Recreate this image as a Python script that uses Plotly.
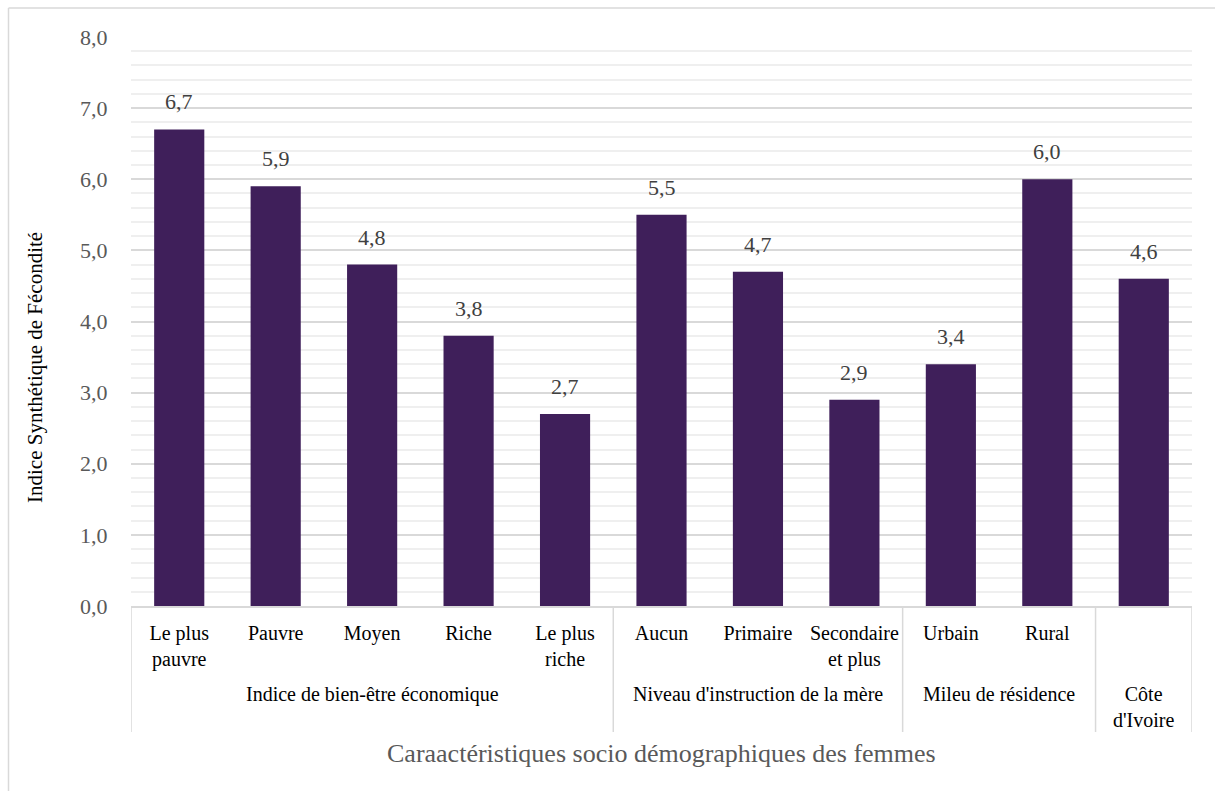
import plotly.graph_objects as go

# Total fertility rate by women's socio-demographic characteristics
categories = ["Le plus pauvre", "Pauvre", "Moyen", "Riche", "Le plus riche",
              "Aucun", "Primaire", "Secondaire et plus",
              "Urbain", "Rural",
              "Côte d'Ivoire"]
tick_labels = ["Le plus<br>pauvre", "Pauvre", "Moyen", "Riche", "Le plus<br>riche",
               "Aucun", "Primaire", "Secondaire<br>et plus",
               "Urbain", "Rural",
               ""]
values = [6.7, 5.9, 4.8, 3.8, 2.7, 5.5, 4.7, 2.9, 3.4, 6.0, 4.6]
value_labels = ["6,7", "5,9", "4,8", "3,8", "2,7", "5,5", "4,7", "2,9", "3,4", "6,0", "4,6"]
groups = ["Indice de bien-être économique", "Niveau d'instruction de la mère",
          "Mileu de résidence", "Côte<br>d'Ivoire"]
group_sizes = [5, 3, 2, 1]

FONT = "Liberation Serif"
BAR = "#3F1F5A"
GRID = "#D9D9D9"
MINOR = "#EFEFEF"

W, H = 1215, 791
L, R, T, B = 131, 23, 37, 185
pw, ph = W - L - R, H - T - B

fig = go.Figure(go.Bar(
    x=categories, y=values, marker=dict(color=BAR, line=dict(width=0)),
    width=0.52, hoverinfo="x+y",
))

# value labels above bars
for c, v, t in zip(categories, values, value_labels):
    fig.add_annotation(x=c, y=v, xref="x", yref="y", text=t, showarrow=False,
                       yanchor="bottom", yshift=13,
                       font=dict(family=FONT, size=22, color="#404040"))

# group labels and dividers under the category axis
shapes = []
start = 0
bounds = [-0.5]
for g, n in zip(groups, group_sizes):
    center = start + (n - 1) / 2
    fig.add_annotation(x=center, y=0, xref="x", yref="paper", text=g,
                       showarrow=False, yanchor="top", yshift=-75,
                       font=dict(family=FONT, size=20, color="#000000"))
    start += n
    bounds.append(start - 0.5)

y_bottom = -(732 - (T + ph)) / ph
for b in bounds:
    shapes.append(dict(type="line", xref="x", yref="paper", x0=b, x1=b,
                       y0=0, y1=y_bottom, line=dict(color=GRID, width=1.5)))

# chart-area frame (top and left edges)
fx = (8.5 - L) / pw
fy = (T + ph - 8) / ph
shapes.append(dict(type="line", xref="paper", yref="paper", x0=fx, x1=(W - L) / pw,
                   y0=fy, y1=fy, line=dict(color=GRID, width=1.5)))
shapes.append(dict(type="line", xref="paper", yref="paper", x0=fx, x1=fx,
                   y0=fy, y1=-(B) / ph, line=dict(color=GRID, width=1.5)))

# axis titles
fig.add_annotation(xref="paper", yref="paper", x=(35 - L) / pw, y=(T + ph - 368) / ph,
                   text="Indice Synthétique de Fécondité", textangle=-90,
                   showarrow=False, xanchor="center", yanchor="middle",
                   font=dict(family=FONT, size=21, color="#000000"))
fig.add_annotation(xref="paper", yref="paper", x=0.5, y=-(753 - (T + ph)) / ph,
                   text="Caraactéristiques socio démographiques des femmes",
                   showarrow=False, xanchor="center", yanchor="middle",
                   font=dict(family=FONT, size=26, color="#595959"))

fig.update_layout(
    width=W, height=H,
    margin=dict(l=L, r=R, t=T, b=B),
    plot_bgcolor="white", paper_bgcolor="white",
    separators=", ",
    bargap=0.48,
    showlegend=False,
    shapes=shapes,
    font=dict(family=FONT),
    xaxis=dict(
        type="category",
        tickvals=categories, ticktext=tick_labels,
        tickfont=dict(family=FONT, size=20, color="#000000"),
        showline=True, linecolor=GRID, linewidth=1.5,
        ticks="outside", ticklen=8, tickcolor="rgba(0,0,0,0)",
        range=[-0.5, 10.5], showgrid=False,
    ),
    yaxis=dict(
        range=[0, 8], dtick=1, tickformat=".1f",
        tickfont=dict(family=FONT, size=22, color="#595959"),
        showgrid=True, gridcolor=GRID, gridwidth=1.5,
        minor=dict(dtick=0.2, showgrid=True, gridcolor=MINOR, gridwidth=1.5),
        ticks="outside", ticklen=18, tickcolor="rgba(0,0,0,0)",
        zeroline=False, showline=False,
    ),
)

fig.write_html("out.html")
